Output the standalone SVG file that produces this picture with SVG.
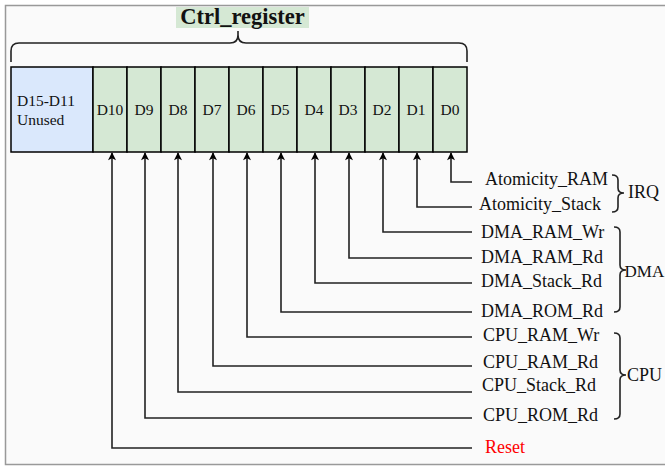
<svg xmlns="http://www.w3.org/2000/svg" width="665" height="468" viewBox="0 0 665 468">
<defs>
<style>
.cell{fill:#d5e8d4;stroke:#000;stroke-width:1.5}
.unused{fill:#dae8fc;stroke:#000;stroke-width:1.5}
.t{font-family:"Liberation Serif","Times New Roman",serif;fill:#111}
.c{font-size:15.5px;text-anchor:middle}
.l{font-size:18px}
.w{fill:none;stroke:#222;stroke-width:1.6}
.br{fill:none;stroke:#222;stroke-width:1.6}
</style>
<marker id="ah" viewBox="0 0 10 10" refX="9" refY="5" markerWidth="9" markerHeight="8" markerUnits="userSpaceOnUse" orient="auto">
<path d="M0,0 L10,5 L0,10 L2.5,5 Z" fill="#000"/>
</marker>
</defs>
<rect x="5.5" y="5.5" width="670" height="459" fill="#fafafa" stroke="#999" stroke-width="1.5"/>
<g id="title">
<rect x="176" y="7" width="133" height="21" fill="#d5e8d4"/>
<text class="t" x="242.5" y="23.5" font-size="22.5" font-weight="bold" text-anchor="middle">Ctrl_register</text>
<path class="br" d="M11,62 V51 q0,-8 8,-8 H230 q8,0 8,-8 V31 M238,35 q0,8 8,8 H459 q8,0 8,8 V62"/>
</g>
<g id="unused">
<rect class="unused" x="11" y="67" width="82" height="85"/>
<text class="t" x="17" y="106" font-size="15.5">D15-D11</text>
<text class="t" x="17" y="125" font-size="15.5">Unused</text>
</g>
<g id="D10"><rect class="cell" x="93" y="67" width="34" height="85"/><text class="t c" x="110" y="115">D10</text></g>
<g id="D9"><rect class="cell" x="127" y="67" width="34" height="85"/><text class="t c" x="144" y="115">D9</text></g>
<g id="D8"><rect class="cell" x="161" y="67" width="34" height="85"/><text class="t c" x="178" y="115">D8</text></g>
<g id="D7"><rect class="cell" x="195" y="67" width="34" height="85"/><text class="t c" x="212" y="115">D7</text></g>
<g id="D6"><rect class="cell" x="229" y="67" width="34" height="85"/><text class="t c" x="246" y="115">D6</text></g>
<g id="D5"><rect class="cell" x="263" y="67" width="34" height="85"/><text class="t c" x="280" y="115">D5</text></g>
<g id="D4"><rect class="cell" x="297" y="67" width="34" height="85"/><text class="t c" x="314" y="115">D4</text></g>
<g id="D3"><rect class="cell" x="331" y="67" width="34" height="85"/><text class="t c" x="348" y="115">D3</text></g>
<g id="D2"><rect class="cell" x="365" y="67" width="34" height="85"/><text class="t c" x="382" y="115">D2</text></g>
<g id="D1"><rect class="cell" x="399" y="67" width="34" height="85"/><text class="t c" x="416" y="115">D1</text></g>
<g id="D0"><rect class="cell" x="433" y="67" width="34" height="85"/><text class="t c" x="450" y="115">D0</text></g>
<g id="connectors">
<path class="w" marker-end="url(#ah)" d="M472,182 H451 V153"/>
<path class="w" marker-end="url(#ah)" d="M472,207 H417 V153"/>
<path class="w" marker-end="url(#ah)" d="M472,232 H383 V153"/>
<path class="w" marker-end="url(#ah)" d="M472,258 H349 V153"/>
<path class="w" marker-end="url(#ah)" d="M472,283 H315 V153"/>
<path class="w" marker-end="url(#ah)" d="M472,312 H281 V153"/>
<path class="w" marker-end="url(#ah)" d="M472,337 H247 V153"/>
<path class="w" marker-end="url(#ah)" d="M472,366 H213 V153"/>
<path class="w" marker-end="url(#ah)" d="M472,392 H178 V153"/>
<path class="w" marker-end="url(#ah)" d="M472,418 H145 V153"/>
<path class="w" marker-end="url(#ah)" d="M472,448 H112 V153"/>
</g>
<g id="Atomicity_RAM"><text class="t l" x="485" y="185">Atomicity_RAM</text></g>
<g id="Atomicity_Stack"><text class="t l" x="479" y="210">Atomicity_Stack</text></g>
<g id="DMA_RAM_Wr"><text class="t l" x="481" y="238">DMA_RAM_Wr</text></g>
<g id="DMA_RAM_Rd"><text class="t l" x="481" y="263">DMA_RAM_Rd</text></g>
<g id="DMA_Stack_Rd"><text class="t l" x="481" y="287">DMA_Stack_Rd</text></g>
<g id="DMA_ROM_Rd"><text class="t l" x="481" y="317">DMA_ROM_Rd</text></g>
<g id="CPU_RAM_Wr"><text class="t l" x="483" y="341">CPU_RAM_Wr</text></g>
<g id="CPU_RAM_Rd"><text class="t l" x="483" y="368">CPU_RAM_Rd</text></g>
<g id="CPU_Stack_Rd"><text class="t l" x="482" y="391">CPU_Stack_Rd</text></g>
<g id="CPU_ROM_Rd"><text class="t l" x="483" y="421">CPU_ROM_Rd</text></g>
<g id="Reset"><text class="t l" x="485" y="453" style="fill:#ff0000">Reset</text></g>
<g id="IRQ">
<path class="br" d="M612,175 c4,0 6,1 6,5 V188 c0,4 2,5 6,5 c-4,0 -6,1 -6,5 V207 c0,4 -2,5 -6,5"/>
<text class="t l" x="628" y="198">IRQ</text>
</g>
<g id="DMA">
<path class="br" d="M614,227 c4,0 6,1 6,5 V265 c0,4 2,5 6,5 c-4,0 -6,1 -6,5 V307 c0,4 -2,5 -6,5"/>
<text class="t" x="624.5" y="277" font-size="17">DMA</text>
</g>
<g id="CPU">
<path class="br" d="M614,333 c4,0 6,1 6,5 V370 c0,4 2,5 6,5 c-4,0 -6,1 -6,5 V414 c0,4 -2,5 -6,5"/>
<text class="t l" x="627" y="381">CPU</text>
</g>
</svg>
